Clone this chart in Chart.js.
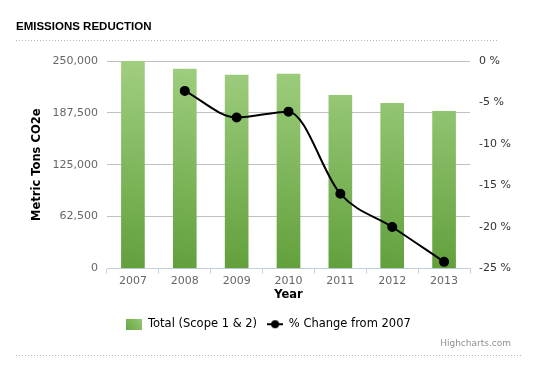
<!DOCTYPE html>
<html>
<head>
<meta charset="utf-8">
<title>Emissions Reduction</title>
<script src="https://cdn.jsdelivr.net/npm/chart.js@4.4.1/dist/chart.umd.min.js"></script>
<style>
  html, body { margin: 0; padding: 0; background: #fff; }
  #wrap { position: relative; width: 551px; height: 372px; }
</style>
</head>
<body>
<div id="wrap"><canvas id="emissionsChart" width="551" height="372"></canvas></div>
<script>
// chart data
const years = ['2007', '2008', '2009', '2010', '2011', '2012', '2013'];
const totalEmissions = [249500, 240300, 233000, 234200, 208700, 199000, 189300];
const pctChange = [null, -3.6, -6.8, -6.1, -16.0, -20.0, -24.2];
const leftTicks = [0, 62500, 125000, 187500, 250000];
const rightTicks = [-25, -20, -15, -10, -5, 0];

const FONT = '"DejaVu Sans", Verdana, sans-serif';

// bar fill: dark at bottom left, light at top right
function barFill(context) {
  const chart = context.chart;
  const area = chart.chartArea;
  if (!area) return '#7fb85a';
  const cx = chart.scales.x.getPixelForValue(context.dataIndex);
  const g = chart.ctx.createLinearGradient(cx - 12, area.bottom, cx + 12, area.top);
  g.addColorStop(0, '#62a03c');
  g.addColorStop(1, '#a0cf80');
  return g;
}

// legend symbols
function barSymbol() {
  const c = document.createElement('canvas');
  c.width = 16; c.height = 11;
  const x = c.getContext('2d');
  const g = x.createLinearGradient(0, 11, 16, 0);
  g.addColorStop(0, '#6aa845');
  g.addColorStop(1, '#96c977');
  x.fillStyle = g;
  x.fillRect(0, 0, 16, 11);
  return c;
}
function lineSymbol() {
  const c = document.createElement('canvas');
  c.width = 16; c.height = 10;
  const x = c.getContext('2d');
  x.strokeStyle = '#000';
  x.lineWidth = 2;
  x.beginPath(); x.moveTo(0, 5); x.lineTo(16, 5); x.stroke();
  x.fillStyle = '#000';
  x.beginPath(); x.arc(8, 5, 4, 0, Math.PI * 2); x.fill();
  return c;
}

// title, dotted rules and credits
const frame = {
  id: 'frame',
  afterDraw(chart) {
    const ctx = chart.ctx;
    ctx.save();
    ctx.fillStyle = '#000';
    ctx.font = 'bold 11.5px "Liberation Sans", Arial, sans-serif';
    ctx.textBaseline = 'alphabetic';
    ctx.textAlign = 'left';
    ctx.fillText('EMISSIONS REDUCTION', 16, 30);

    ctx.strokeStyle = '#b4b4b4';
    ctx.lineWidth = 1;
    ctx.setLineDash([1, 2]);
    ctx.beginPath();
    ctx.moveTo(16, 40.5); ctx.lineTo(497, 40.5);
    ctx.moveTo(16, 355.5); ctx.lineTo(522, 355.5);
    ctx.stroke();
    ctx.setLineDash([]);

    ctx.fillStyle = '#909090';
    ctx.font = '9px ' + FONT;
    ctx.textAlign = 'right';
    ctx.fillText('Highcharts.com', 511, 346);
    ctx.restore();
  }
};

document.addEventListener('DOMContentLoaded', function () {
  const ctx = document.getElementById('emissionsChart').getContext('2d');
  const symbols = [barSymbol(), lineSymbol()];

  new Chart(ctx, {
    type: 'bar',
    data: {
      labels: years,
      datasets: [{
        type: 'bar',
        label: 'Total (Scope 1 & 2)',
        data: totalEmissions,
        yAxisID: 'y',
        order: 1,
        barThickness: 23,
        backgroundColor: barFill
      }, {
        type: 'line',
        label: '% Change from 2007',
        data: pctChange,
        yAxisID: 'y1',
        order: 0,
        borderColor: '#000',
        borderWidth: 2,
        backgroundColor: '#000',
        pointRadius: 4,
        pointBackgroundColor: '#000',
        cubicInterpolationMode: 'monotone',
        spanGaps: false
      }]
    },
    options: {
      responsive: false,
      animation: false,
      layout: { padding: { left: 26, right: 40, top: 61, bottom: 32 } },
      plugins: {
        tooltip: { enabled: false },
        legend: {
          position: 'bottom',
          labels: {
            usePointStyle: true,
            pointStyleWidth: 16,
            padding: 10,
            color: '#274b6d',
            font: { family: FONT, size: 11.5 },
            sort: (a, b) => a.datasetIndex - b.datasetIndex,
            generateLabels: function (chart) {
              return chart.data.datasets.map((ds, i) => ({
                text: ds.label,
                pointStyle: symbols[i],
                fillStyle: '#000',
                strokeStyle: '#000',
                lineWidth: 0,
                hidden: false,
                datasetIndex: i
              }));
            }
          }
        }
      },
      scales: {
        x: {
          offset: true,
          afterFit: s => { s.height = 40; },
          grid: {
            offset: true,
            drawOnChartArea: false,
            drawTicks: true,
            tickLength: 5,
            color: '#C0D0E0'
          },
          border: { display: true, color: '#C0D0E0' },
          ticks: { color: '#666', padding: 1, font: { family: FONT, size: 11 } },
          title: {
            display: true,
            text: 'Year',
            color: '#000',
            padding: { top: 0, bottom: 7 },
            font: { family: FONT, size: 11.5, weight: 'bold' }
          }
        },
        y: {
          position: 'left',
          min: 0,
          max: 250000,
          afterFit: s => { s.width = 81; },
          afterBuildTicks: s => { s.ticks = leftTicks.map(v => ({ value: v })); },
          grid: { color: '#C0C0C0', drawTicks: false },
          border: { display: false },
          ticks: {
            color: '#666',
            padding: 9,
            font: { family: FONT, size: 11 },
            callback: v => v.toLocaleString('en-US')
          },
          title: {
            display: true,
            text: 'Metric Tons CO2e',
            color: '#000',
            padding: { top: 4, bottom: 4 },
            font: { family: FONT, size: 11.5, weight: 'bold' }
          }
        },
        y1: {
          position: 'right',
          min: -25,
          max: 0,
          afterFit: s => { s.width = 41; },
          afterBuildTicks: s => { s.ticks = rightTicks.map(v => ({ value: v })); },
          grid: { drawOnChartArea: false, drawTicks: false },
          border: { display: false },
          ticks: {
            color: '#333',
            padding: 9,
            font: { family: FONT, size: 11 },
            callback: v => v + ' %'
          }
        }
      }
    },
    plugins: [frame]
  });
});
</script>
</body>
</html>
